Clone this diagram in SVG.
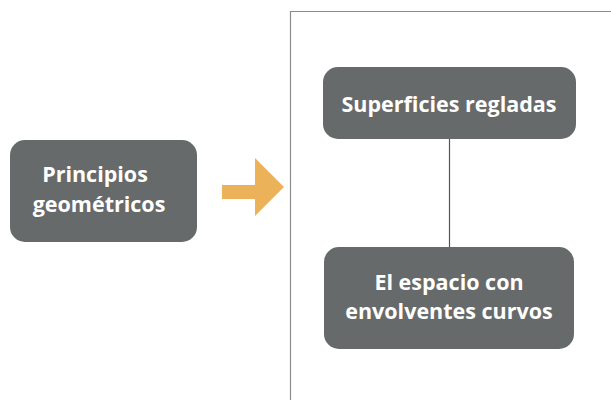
<svg xmlns="http://www.w3.org/2000/svg" width="611" height="400" viewBox="0 0 611 400">
<style>
.box{fill:#676a6a}
.t{font-family:"Open Sans","Liberation Sans",sans-serif;font-weight:bold;font-size:21.5px;fill:#ffffff;text-anchor:middle}
.ln{stroke:#8c8c8c;stroke-width:1.2;fill:none}
</style>
<rect width="611" height="400" fill="#ffffff"/>
<g id="frame">
<path class="ln" d="M290.5,400 V11.5 H611"/>
</g>
<g id="connectors">
<line x1="449.5" y1="139" x2="449.5" y2="247" stroke="#555" stroke-width="1.2"/>
<path id="arrow" d="M222,185 H255 V158 L284,187 L255,216 V199 H222 Z" fill="#ebb259"/>
</g>
<g id="n1">
<rect class="box" x="10" y="140" width="187" height="102" rx="15"/>
<text class="t" x="95" y="182">Principios</text>
<text class="t" x="99" y="212">geométricos</text>
</g>
<g id="n2">
<rect class="box" x="323" y="67" width="253" height="72" rx="15"/>
<text class="t" x="449" y="112">Superficies regladas</text>
</g>
<g id="n3">
<rect class="box" x="324" y="247" width="250" height="102" rx="15"/>
<text class="t" x="449" y="290">El espacio con</text>
<text class="t" x="449" y="319">envolventes curvos</text>
</g>
</svg>
